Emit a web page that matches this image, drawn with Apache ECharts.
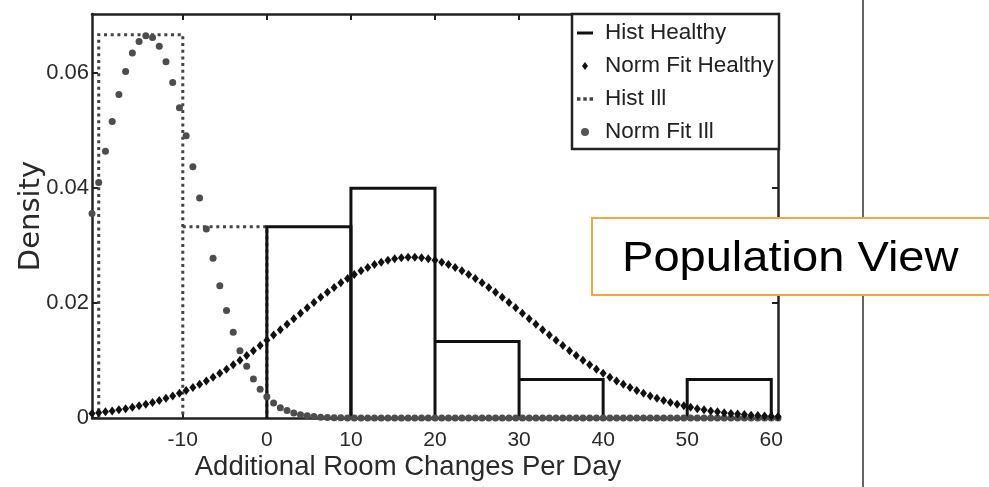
<!DOCTYPE html>
<html>
<head>
<meta charset="utf-8">
<script src="https://cdn.jsdelivr.net/npm/echarts@6/dist/echarts.min.js"></script>
<style>
html,body{margin:0;padding:0;background:#fff;}
#chart{width:989px;height:487px;}
</style>
</head>
<body>
<div id="chart"></div>
<script>
// ---- data ----
const seriesNames = ['Hist Healthy', 'Norm Fit Healthy', 'Hist Ill', 'Norm Fit Ill'];
const xTicks = [-10, 0, 10, 20, 30, 40, 50, 60];
const yTicks = [0, 0.02, 0.04, 0.06];

const healthyEdges = [0, 10, 20, 30, 40, 50, 60];
const healthyDensity = [0.0333, 0.04, 0.0133, 0.0067, 0, 0.0067];
const illEdges = [-20, -10, 0];
const illDensity = [0.0667, 0.0333];

const xGrid = [
  -20.8,-20,-19.2,-18.4,-17.6,-16.8,-16,-15.2,-14.4,-13.6,
  -12.8,-12,-11.2,-10.4,-9.6,-8.8,-8,-7.2,-6.4,-5.6,
  -4.8,-4,-3.2,-2.4,-1.6,-0.8,0,0.8,1.6,2.4,
  3.2,4,4.8,5.6,6.4,7.2,8,8.8,9.6,10.4,
  11.2,12,12.8,13.6,14.4,15.2,16,16.8,17.6,18.4,
  19.2,20,20.8,21.6,22.4,23.2,24,24.8,25.6,26.4,
  27.2,28,28.8,29.6,30.4,31.2,32,32.8,33.6,34.4,
  35.2,36,36.8,37.6,38.4,39.2,40,40.8,41.6,42.4,
  43.2,44,44.8,45.6,46.4,47.2,48,48.8,49.6,50.4,
  51.2,52,52.8,53.6,54.4,55.2,56,56.8,57.6,58.4,
  59.2,60,60.8
];
const normFitHealthy = [
  0.00080,0.00093,0.00107,0.00123,0.00142,0.00162,0.00185,0.00211,0.00239,0.00271,
  0.00305,0.00343,0.00384,0.00429,0.00477,0.00530,0.00586,0.00646,0.00710,0.00778,
  0.00850,0.00926,0.01005,0.01087,0.01172,0.01261,0.01351,0.01444,0.01537,0.01632,
  0.01728,0.01823,0.01917,0.02010,0.02101,0.02189,0.02273,0.02353,0.02429,0.02499,
  0.02562,0.02620,0.02670,0.02712,0.02747,0.02773,0.02790,0.02799,0.02799,0.02790,
  0.02773,0.02747,0.02712,0.02670,0.02620,0.02562,0.02499,0.02429,0.02353,0.02273,
  0.02189,0.02101,0.02010,0.01917,0.01823,0.01728,0.01632,0.01537,0.01444,0.01351,
  0.01261,0.01172,0.01087,0.01005,0.00926,0.00850,0.00778,0.00710,0.00646,0.00586,
  0.00530,0.00477,0.00429,0.00384,0.00343,0.00305,0.00271,0.00239,0.00211,0.00185,
  0.00162,0.00142,0.00123,0.00107,0.00093,0.00080,0.00069,0.00059,0.00050,0.00043,
  0.00036,0.00031,0.00026
];
const normFitIll = [
  0.0356,0.0410,0.0464,0.0516,0.0563,0.0603,0.0635,0.0655,0.0665,0.0662,
  0.0647,0.0620,0.0584,0.0540,0.0491,0.0437,0.0383,0.0329,0.0278,0.0230,
  0.0187,0.0149,0.0117,0.0090,0.0068,0.0050,0.0037,0.0026,0.0018,0.0013,
  0.00086,0.00057,0.00037,0.00024,0.00015,0.00009,0.00006,0.00003,0.00002,0.00001,
  0,0,0,0,0,0,0,0,0,0,
  0,0,0,0,0,0,0,0,0,0,
  0,0,0,0,0,0,0,0,0,0,
  0,0,0,0,0,0,0,0,0,0,
  0,0,0,0,0,0,0,0,0,0,
  0,0,0,0,0,0,0,0,0,0,
  0,0,0
];

// ---- build ----
const FONT = 'Liberation Sans';
const AXIS_COLOR = '#222';
const TEXT_COLOR = '#2a2a2a';

function histData(edges, dens) {
  return dens.map((h, i) => [edges[i], edges[i + 1], h, i > 0 ? dens[i - 1] : -1]);
}
function histRenderer(stroke, width, dash) {
  return function (params, api) {
    const l = api.value(0), r = api.value(1), h = api.value(2), prev = api.value(3);
    if (!(h > 0)) return null;
    const start = prev >= h ? api.coord([l, h]) : api.coord([l, 0]);
    const pts = [start, api.coord([l, h]), api.coord([r, h]), api.coord([r, 0])];
    return {
      type: 'polyline',
      shape: { points: pts },
      style: { fill: null, stroke: stroke, lineWidth: width, lineDash: dash, lineCap: 'butt' }
    };
  };
}
const pairs = (ys) => xGrid.map((x, i) => [x, ys[i]]);

const chart = echarts.init(document.getElementById('chart'), null, { renderer: 'canvas' });

const xMin = -20.8, xMax = 60.8, yMin = 0, yMax = 0.0703;

const option = {
  backgroundColor: '#fff',
  animation: false,
  grid: { left: 92, right: 211, top: 14, bottom: 69, containLabel: false, outerBoundsMode: 'none' },
  xAxis: [
    {
      type: 'value', min: xMin, max: xMax, position: 'bottom',
      axisLine: { show: true, onZero: false, lineStyle: { color: AXIS_COLOR, width: 2.5 } },
      axisTick: { show: true, inside: true, length: 6, customValues: xTicks, lineStyle: { color: AXIS_COLOR, width: 2 } },
      axisLabel: { customValues: xTicks, margin: 12, fontFamily: FONT, fontSize: 21, color: TEXT_COLOR },
      splitLine: { show: false },
      name: 'Additional Room Changes Per Day', nameLocation: 'middle', nameGap: 35, nameMoveOverlap: false,
      nameTextStyle: { fontFamily: FONT, fontSize: 27.5, color: TEXT_COLOR, padding: [0, 54, 0, 0] }
    },
    {
      type: 'value', min: xMin, max: xMax, position: 'top',
      axisLine: { show: true, onZero: false, lineStyle: { color: AXIS_COLOR, width: 2.5 } },
      axisTick: { show: true, inside: true, length: 6, customValues: xTicks, lineStyle: { color: AXIS_COLOR, width: 2 } },
      axisLabel: { show: false },
      splitLine: { show: false }
    }
  ],
  yAxis: [
    {
      type: 'value', min: yMin, max: yMax, position: 'left',
      axisLine: { show: true, onZero: false, lineStyle: { color: AXIS_COLOR, width: 2.5 } },
      axisTick: { show: true, inside: true, length: 6, customValues: yTicks, lineStyle: { color: AXIS_COLOR, width: 2 } },
      axisLabel: {
        customValues: yTicks, margin: 3, fontFamily: FONT, fontSize: 22, color: TEXT_COLOR,
        formatter: (v) => (v === 0 ? '0' : v.toFixed(2))
      },
      splitLine: { show: false },
      name: 'Density', nameLocation: 'middle', nameGap: 46, nameMoveOverlap: false,
      nameTextStyle: { fontFamily: 'DejaVu Sans', fontSize: 29, color: TEXT_COLOR }
    },
    {
      type: 'value', min: yMin, max: yMax, position: 'right',
      axisLine: { show: true, onZero: false, lineStyle: { color: AXIS_COLOR, width: 2.5 } },
      axisTick: { show: true, inside: true, length: 6, customValues: yTicks, lineStyle: { color: AXIS_COLOR, width: 2 } },
      axisLabel: { show: false },
      splitLine: { show: false }
    }
  ],
  legend: {
    orient: 'vertical', left: 577, top: 21.5, padding: 0,
    itemWidth: 16, itemHeight: 8, itemGap: 10,
    selectedMode: false,
    textStyle: { fontFamily: FONT, fontSize: 22.5, color: '#222', lineHeight: 23, padding: [0, 0, 0, 7] },
    data: [
      { name: seriesNames[0], icon: 'path://M0,0H16V3H0Z', itemStyle: { color: '#111', borderWidth: 0 } },
      { name: seriesNames[1], icon: 'path://M3,0L6,4L3,8L0,4Z', itemStyle: { color: '#111', borderWidth: 0 } },
      { name: seriesNames[2], icon: 'path://M0,0h3v3h-3z M5.5,0h3v3h-3z M11,0h3v3h-3z', itemStyle: { color: '#444', borderWidth: 0 } },
      { name: seriesNames[3], icon: 'circle', itemStyle: { color: '#555', borderWidth: 0 } }
    ],
    z: 6
  },
  series: [
    {
      name: seriesNames[2], type: 'custom', xAxisIndex: 0, yAxisIndex: 0,
      renderItem: histRenderer('#444', 3, [3, 3.7]),
      encode: { x: [0, 1], y: 2 },
      data: histData(illEdges, illDensity), z: 2
    },
    {
      name: seriesNames[0], type: 'custom', xAxisIndex: 0, yAxisIndex: 0,
      renderItem: histRenderer('#111', 3, null),
      encode: { x: [0, 1], y: 2 },
      data: histData(healthyEdges, healthyDensity), z: 2
    },
    {
      name: seriesNames[3], type: 'scatter', xAxisIndex: 0, yAxisIndex: 0,
      symbol: 'circle', symbolSize: 7,
      itemStyle: { color: '#4d4d4d', opacity: 1 },
      data: pairs(normFitIll), z: 3
    },
    {
      name: seriesNames[1], type: 'scatter', xAxisIndex: 0, yAxisIndex: 0,
      symbol: 'diamond', symbolSize: [7, 9],
      itemStyle: { color: '#111', opacity: 1 },
      data: pairs(normFitHealthy), z: 4
    }
  ],
  graphic: [
    {
      type: 'rect', z: 5,
      shape: { x: 572, y: 14, width: 207, height: 135 },
      style: { fill: '#fff', stroke: '#222', lineWidth: 2.5 }
    },
    {
      type: 'line', z: 1,
      shape: { x1: 863, y1: 0, x2: 863, y2: 487 },
      style: { stroke: '#666', lineWidth: 2 }
    },
    {
      type: 'rect', z: 7,
      shape: { x: 592, y: 218, width: 420, height: 77 },
      style: { fill: '#fff', stroke: '#F5A640', lineWidth: 2 }
    },
    {
      type: 'text', z: 8,
      x: 622, y: 259, scaleX: 1.12, originX: 0,
      style: {
        text: 'Population View', fontFamily: 'Liberation Sans', fontSize: 42,
        fill: '#000', align: 'left', verticalAlign: 'middle'
      }
    }
  ]
};
chart.setOption(option);
</script>
</body>
</html>
